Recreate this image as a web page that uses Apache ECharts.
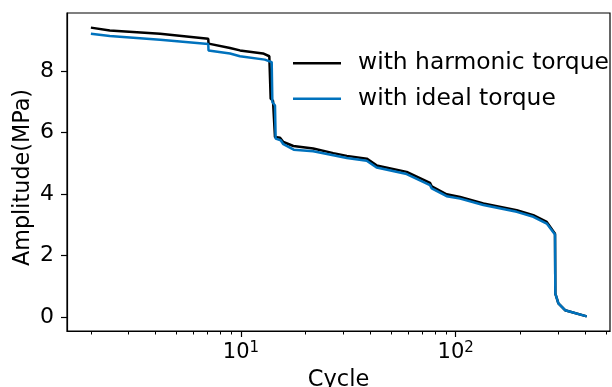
<!DOCTYPE html>
<html>
<head>
<meta charset="utf-8">
<script src="https://cdn.jsdelivr.net/npm/echarts@6/dist/echarts.min.js"></script>
<style>
  html, body { margin: 0; padding: 0; background: #fff; }
  #chart { width: 612px; height: 387px; }
</style>
</head>
<body>
<div id="chart"></div>
<script>
// Stress amplitude versus cycle count for the two torque cases
const seriesNames = ['with harmonic torque', 'with ideal torque'];

const cycleHarmonic = [2.0, 2.45, 4.2, 7.04, 7.06, 8.89, 9.89, 12.66, 13.55, 13.75,
  14.1, 14.4, 15.2, 15.75, 17.53, 21.7, 26.9, 31.1, 38.5, 42.8,
  59.1, 75.9, 77.3, 90.7, 104.8, 134.5, 192.4, 229.8, 265.4, 290,
  291, 300.7, 323, 407.6];
const ampHarmonic = [9.41, 9.32, 9.21, 9.05, 8.89, 8.75, 8.67, 8.57, 8.48, 7.10,
  7.03, 5.85, 5.83, 5.69, 5.56, 5.48, 5.33, 5.24, 5.15, 4.93,
  4.72, 4.36, 4.25, 3.99, 3.90, 3.69, 3.47, 3.31, 3.09, 2.71,
  0.76, 0.44, 0.22, 0.02];

const cycleIdeal = [2.0, 2.45, 4.2, 7.04, 7.06, 8.89, 9.89, 12.9, 13.9, 14.0,
  14.4, 14.5, 15.3, 15.75, 17.6, 21.7, 26.9, 31.1, 38.5, 42.8,
  59.1, 75.9, 77.3, 90.7, 104.8, 134.5, 192.4, 229.8, 265.4, 290,
  291, 300.7, 323, 407.6];
const ampIdeal = [9.21, 9.14, 9.02, 8.88, 8.67, 8.57, 8.48, 8.37, 8.29, 6.99,
  6.88, 5.80, 5.75, 5.62, 5.44, 5.39, 5.26, 5.17, 5.08, 4.86,
  4.65, 4.29, 4.18, 3.93, 3.85, 3.64, 3.42, 3.26, 3.04, 2.68,
  0.76, 0.44, 0.22, 0.02];

const xMajorTicks = [10, 100];
const xMinorTicks = [2, 3, 4, 5, 6, 7, 8, 9, 20, 30, 40, 50, 60, 70, 80, 90, 200, 300, 400, 500];
const yTicks = [0, 2, 4, 6, 8];

const X_MIN = 1.548, X_MAX = 523;
const Y_MIN = -0.455, Y_MAX = 9.886;

const FONT = 'DejaVu Sans';
const INK = '#000';

const pairs = (xs, ys) => xs.map((x, i) => [x, ys[i]]);

const chart = echarts.init(document.getElementById('chart'), null, { renderer: 'canvas' });

chart.setOption({
  animation: false,
  backgroundColor: '#fff',
  grid: {
    left: 67, right: 2, top: 13, bottom: 56,
    outerBoundsMode: 'none', containLabel: false,
    show: true, borderColor: INK, borderWidth: 1.2, backgroundColor: 'transparent'
  },
  legend: {
    orient: 'vertical',
    left: 293, top: 51.7, padding: 0,
    icon: 'rect',
    itemWidth: 48, itemHeight: 2.5, itemGap: 12.6,
    data: seriesNames,
    textStyle: { fontFamily: FONT, fontSize: 23.4, lineHeight: 22, color: INK, padding: [0, 0, 0, 12] }
  },
  xAxis: [
    {
      type: 'log', logBase: 10, min: X_MIN, max: X_MAX,
      name: 'Cycle', nameLocation: 'middle', nameGap: 29,
      nameTextStyle: { fontFamily: FONT, fontSize: 22.5, color: INK },
      axisLine: { show: true, onZero: false, lineStyle: { color: INK, width: 1.2 } },
      axisTick: { show: true, customValues: xMajorTicks, length: 6, lineStyle: { color: INK, width: 1.2 } },
      axisLabel: {
        customValues: xMajorTicks, margin: 10,
        formatter: v => '{b|10}{s|' + Math.round(Math.log10(v)) + '}',
        rich: {
          b: { fontFamily: FONT, fontSize: 21, color: INK, lineHeight: 24 },
          s: { fontFamily: FONT, fontSize: 15, color: INK, verticalAlign: 'top', lineHeight: 14 }
        }
      },
      splitLine: { show: false }
    },
    {
      type: 'log', logBase: 10, min: X_MIN, max: X_MAX, position: 'bottom',
      axisLine: { show: false, onZero: false },
      axisTick: { show: true, customValues: xMinorTicks, length: 3.5, lineStyle: { color: INK, width: 1 } },
      axisLabel: { show: false },
      splitLine: { show: false }
    }
  ],
  yAxis: {
    type: 'value', min: Y_MIN, max: Y_MAX,
    name: 'Amplitude(MPa)', nameLocation: 'middle', nameGap: 33, nameRotate: 90,
    nameMoveOverlap: false,
    nameTextStyle: { fontFamily: FONT, fontSize: 22.3, color: INK, padding: [0, 11, 0, 0] },
    axisLine: { show: true, onZero: false, lineStyle: { color: INK, width: 1.2 } },
    axisTick: { show: true, customValues: yTicks, length: 6, lineStyle: { color: INK, width: 1.2 } },
    axisLabel: { customValues: yTicks, margin: 13, fontFamily: FONT, fontSize: 22, color: INK },
    splitLine: { show: false }
  },
  series: [
    {
      name: seriesNames[0], type: 'line', xAxisIndex: 0,
      data: pairs(cycleHarmonic, ampHarmonic),
      showSymbol: false, symbol: 'none',
      color: '#000000',
      lineStyle: { width: 2.5, color: '#000000' }
    },
    {
      name: seriesNames[1], type: 'line', xAxisIndex: 0,
      data: pairs(cycleIdeal, ampIdeal),
      showSymbol: false, symbol: 'none',
      color: '#0072BD',
      lineStyle: { width: 2.5, color: '#0072BD' }
    }
  ]
});
</script>
</body>
</html>
